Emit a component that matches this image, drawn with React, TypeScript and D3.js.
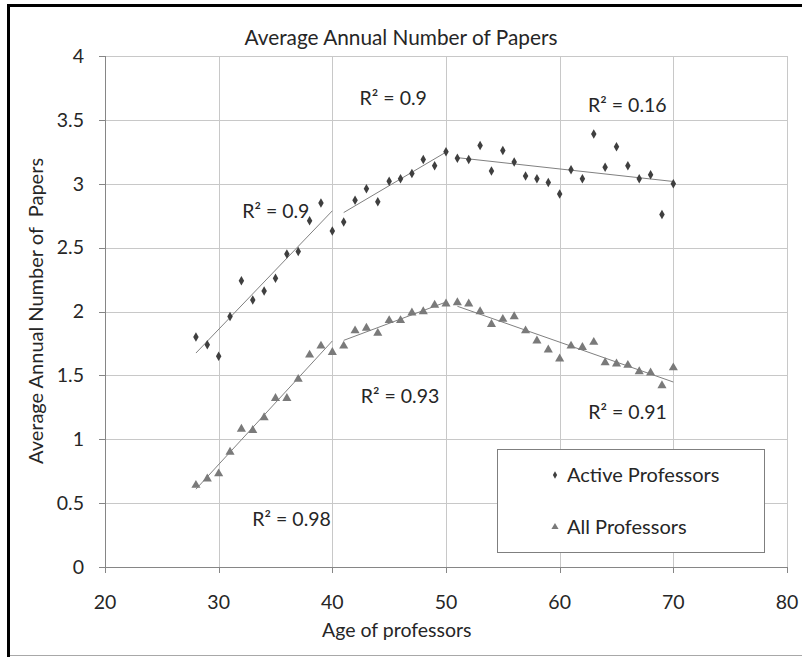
import React from "react";
import * as d3 from "d3";

const ages = [28,29,30,31,32,33,34,35,36,37,38,39,40,41,42,43,44,45,46,47,48,49,50,51,52,53,54,55,56,57,58,59,60,61,62,63,64,65,66,67,68,69,70];
const activeValues = [1.80,1.74,1.65,1.96,2.24,2.09,2.16,2.26,2.45,2.47,2.71,2.85,2.63,2.70,2.87,2.96,2.86,3.02,3.04,3.08,3.19,3.14,3.25,3.20,3.19,3.30,3.10,3.26,3.17,3.06,3.04,3.01,2.92,3.11,3.04,3.39,3.13,3.29,3.14,3.04,3.07,2.76,3.00];
const allValues = [0.64,0.69,0.73,0.90,1.08,1.07,1.17,1.32,1.32,1.47,1.66,1.73,1.68,1.73,1.85,1.87,1.83,1.93,1.93,1.99,2.00,2.05,2.06,2.07,2.06,2.00,1.90,1.94,1.96,1.85,1.77,1.70,1.63,1.73,1.72,1.76,1.60,1.59,1.58,1.53,1.52,1.42,1.56];

const segments: [number, number][] = [[28, 40], [41, 50], [51, 70]];

const xTicks = [20, 30, 40, 50, 60, 70, 80];
const yTicks = [0, 0.5, 1, 1.5, 2, 2.5, 3, 3.5, 4];
const yTickLabels = ["0", "0.5", "1", "1.5", "2", "2.5", "3", "3.5", "4"];

const r2Texts = ["R² = 0.9", "R² = 0.16", "R² = 0.9", "R² = 0.93", "R² = 0.91", "R² = 0.98"];
const r2Ages = [42.4, 62.5, 32.07, 42.5, 62.52, 32.96];
const r2Values = [3.62, 3.56, 2.73, 1.284, 1.156, 0.324];

const title = "Average Annual Number of Papers";
const xTitle = "Age of professors";
const yTitle = "Average Annual Number of  Papers";
const legendNames = ["Active Professors", "All Professors"];

const FONT = "Lato, 'Open Sans', sans-serif";

function fit(xs: number[], ys: number[]) {
  const mx = d3.mean(xs)!;
  const my = d3.mean(ys)!;
  let sxy = 0, sxx = 0;
  xs.forEach((x, i) => { sxy += (x - mx) * (ys[i] - my); sxx += (x - mx) * (x - mx); });
  const b = sxy / sxx;
  const a = my - b * mx;
  return (x: number) => a + b * x;
}

export default function App() {
  const W = 802, H = 657;
  const x = d3.scaleLinear().domain([20, 80]).range([105, 787]);
  const y = d3.scaleLinear().domain([0, 4]).range([567, 56]);

  const trend = (vals: number[]) =>
    segments.map(([a, b]) => {
      const xs: number[] = [], ys: number[] = [];
      ages.forEach((g, i) => { if (g >= a && g <= b) { xs.push(g); ys.push(vals[i]); } });
      const f = fit(xs, ys);
      return { x1: x(a), y1: y(f(a)), x2: x(b), y2: y(f(b)) };
    });

  const activeTrend = trend(activeValues);
  const allTrend = trend(allValues);

  const diamond = d3.symbol().type(d3.symbolDiamond).size(26)()!;
  const triangle = d3.symbol().type(d3.symbolTriangle).size(36)()!;
  const diamondSmall = d3.symbol().type(d3.symbolDiamond).size(16)()!;
  const triangleSmall = d3.symbol().type(d3.symbolTriangle).size(22)()!;

  const gridColor = "#c8c8c8";
  const axisColor = "#868686";
  const textColor = "#262626";

  return (
    <svg width={W} height={H} style={{ position: "absolute", left: 0, top: 0, background: "#fff" }} fontFamily={FONT}>
      <rect x={0} y={0} width={W} height={H} fill="#fff" />
      {/* frame */}
      <line x1={7} y1={5.5} x2={W} y2={5.5} stroke="#000" strokeWidth={3} />
      <line x1={8.5} y1={4} x2={8.5} y2={H} stroke="#000" strokeWidth={3} />
      <line x1={10} y1={655.5} x2={W} y2={655.5} stroke="#a8a8a8" strokeWidth={1} />

      {/* gridlines */}
      {yTicks.slice(1).map((t) => (
        <line key={"gy" + t} x1={x(20)} x2={x(80)} y1={Math.round(y(t)) + 0.5} y2={Math.round(y(t)) + 0.5} stroke={gridColor} />
      ))}
      {xTicks.slice(1).map((t) => (
        <line key={"gx" + t} x1={Math.round(x(t)) + 0.5} x2={Math.round(x(t)) + 0.5} y1={y(4)} y2={y(0)} stroke={gridColor} />
      ))}

      {/* axes */}
      <line x1={x(20) + 0.5} x2={x(20) + 0.5} y1={y(4)} y2={y(0)} stroke={axisColor} />
      <line x1={x(20) - 6} x2={x(80)} y1={Math.round(y(0)) + 0.5} y2={Math.round(y(0)) + 0.5} stroke={axisColor} />
      {yTicks.map((t) => (
        <line key={"ty" + t} x1={x(20) - 6} x2={x(20)} y1={Math.round(y(t)) + 0.5} y2={Math.round(y(t)) + 0.5} stroke={axisColor} />
      ))}
      {xTicks.map((t) => (
        <line key={"tx" + t} x1={Math.round(x(t)) + 0.5} x2={Math.round(x(t)) + 0.5} y1={y(0)} y2={y(0) + 6} stroke={axisColor} />
      ))}

      {/* tick labels */}
      {yTicks.map((t, i) => (
        <text key={"ly" + t} x={84} y={y(t)} dy="0.35em" textAnchor="end" fontSize={19.5} fill={textColor}>{yTickLabels[i]}</text>
      ))}
      {xTicks.map((t) => (
        <text key={"lx" + t} x={x(t)} y={609} textAnchor="middle" fontSize={19.5} fill={textColor}>{t}</text>
      ))}

      {/* titles */}
      <text x={401} y={45} textAnchor="middle" fontSize={20.8} fill={textColor}>{title}</text>
      <text x={322} y={637} textAnchor="start" fontSize={19.5} fill={textColor}>{xTitle}</text>
      <text transform={`translate(43,${311}) rotate(-90)`} textAnchor="middle" fontSize={20} fill={textColor} style={{ whiteSpace: "pre" }}>{yTitle}</text>

      {/* trend lines */}
      {activeTrend.concat(allTrend).map((s, i) => (
        <line key={"tr" + i} x1={s.x1} y1={s.y1} x2={s.x2} y2={s.y2} stroke="#808080" strokeWidth={1} />
      ))}

      {/* points */}
      {ages.map((g, i) => (
        <path key={"a" + g} d={diamond} transform={`translate(${x(g)},${y(activeValues[i])})`} fill="#3f3f3f" />
      ))}
      {ages.map((g, i) => (
        <path key={"b" + g} d={triangle} transform={`translate(${x(g)},${y(allValues[i])})`} fill="#7a7a7a" />
      ))}

      {/* R2 labels */}
      {r2Texts.map((t, i) => (
        <text key={"r" + i} x={x(r2Ages[i])} y={y(r2Values[i])} fontSize={19.5} fill={textColor}>{t}</text>
      ))}

      {/* legend */}
      <rect x={497.5} y={449.5} width={267} height={103} fill="#fff" stroke="#7f7f7f" />
      <path d={diamondSmall} transform="translate(555,475)" fill="#3f3f3f" />
      <text x={567} y={482} fontSize={20} fill={textColor}>{legendNames[0]}</text>
      <path d={triangleSmall} transform="translate(555,527)" fill="#7a7a7a" />
      <text x={567} y={534} fontSize={20} fill={textColor}>{legendNames[1]}</text>
    </svg>
  );
}
